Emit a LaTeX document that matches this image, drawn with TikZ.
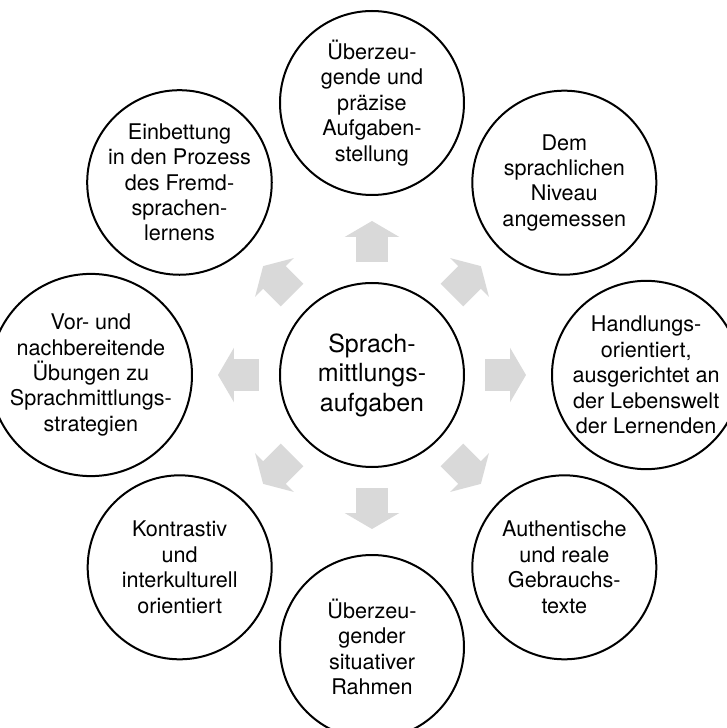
\documentclass[tikz,border=0pt]{standalone}
\usepackage{fontspec}
\setmainfont{TeX Gyre Heros}
\usepackage{tikz}
\usetikzlibrary{arrows.meta, positioning}
\tikzset{
  hub/.style={
    circle, draw=black, line width=1pt,
    minimum size=92pt, inner sep=0pt,
    align=center, font=\fontsize{12.5}{14.7}\selectfont
  },
  topic/.style={
    circle, draw=black, line width=1pt,
    minimum size=92pt, inner sep=0pt,
    align=center, font=\fontsize{10.8}{12.7}\selectfont
  },
  push/.style={
    draw=black!15, line width=16pt,
    -{Triangle[width=27pt, length=8pt]},
    shorten <=10pt, shorten >=12.5pt
  }
}

\begin{document}
\begin{tikzpicture}[node distance=43pt]

\path[use as bounding box, fill=white] (-186pt,-176.5pt) rectangle (177.5pt,187.5pt);

% Central topic
\node[hub] (hub) {Sprach-\\mittlungs-\\aufgaben};

% Straight neighbours
\node[topic, above=of hub] (aufgabe) {Überzeu-\\gende und\\präzise\\Aufgaben-\\stellung};
\node[topic, right=of hub] (handlung) {Handlungs-\\orientiert,\\ausgerichtet an\\der Lebenswelt\\der Lernenden};
\node[topic, below=of hub] (rahmen) {Überzeu-\\gender\\situativer\\Rahmen};
\node[topic, left=of hub] (uebung) {Vor- und\\nachbereitende\\Übungen zu\\Sprachmittlungs-\\strategien};

% Diagonal neighbours
\node[topic, above right=30.4pt and 30.4pt of hub] (niveau) {Dem\\sprachlichen\\Niveau\\angemessen};
\node[topic, below right=30.4pt and 30.4pt of hub] (texte) {Authentische\\und reale\\Gebrauchs-\\texte};
\node[topic, below left=30.4pt and 30.4pt of hub] (kontrast) {Kontrastiv\\und\\interkulturell\\orientiert};
\node[topic, above left=30.4pt and 30.4pt of hub] (prozess) {Einbettung\\in den Prozess\\des Fremd-\\sprachen-\\lernens};

% Block arrows out of the hub
\draw[push] (hub) -- (aufgabe);
\draw[push] (hub) -- (niveau);
\draw[push] (hub) -- (handlung);
\draw[push] (hub) -- (texte);
\draw[push] (hub) -- (rahmen);
\draw[push] (hub) -- (kontrast);
\draw[push] (hub) -- (uebung);
\draw[push] (hub) -- (prozess);

\end{tikzpicture}
\end{document}
